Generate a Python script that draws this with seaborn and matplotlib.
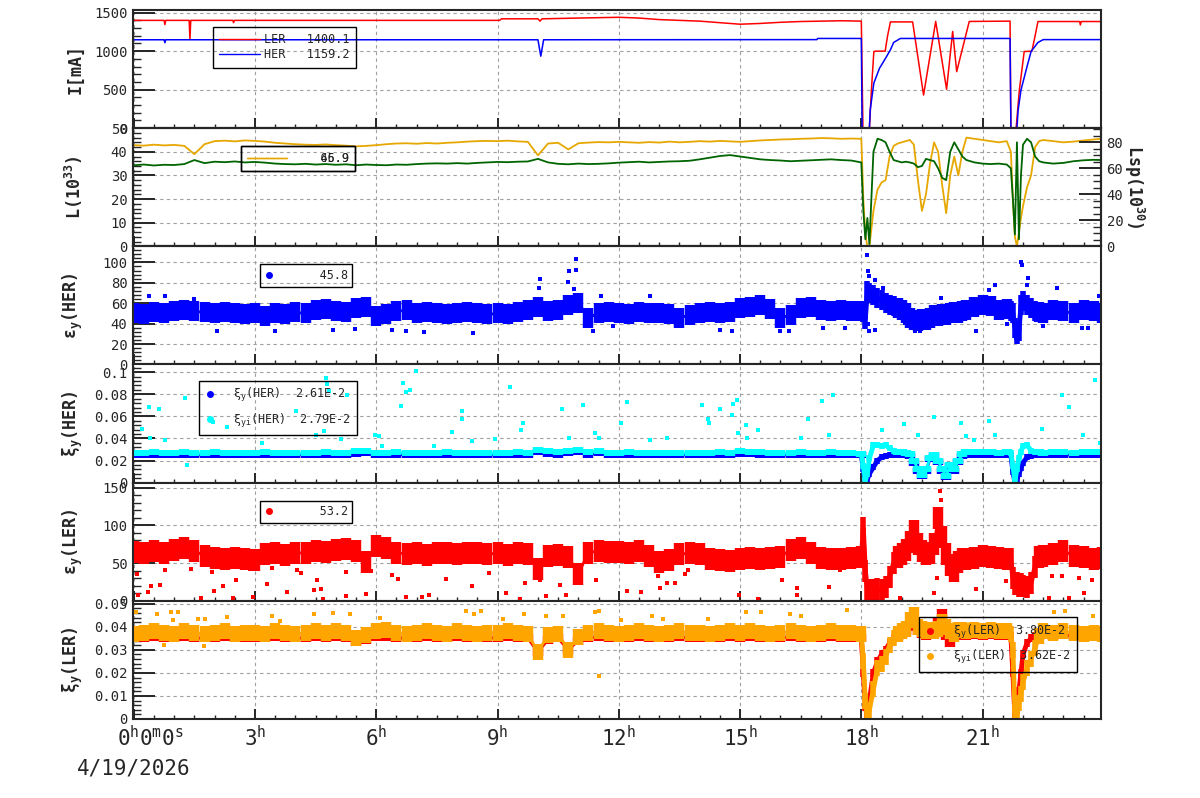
import numpy as np
import seaborn as sns
import matplotlib.pyplot as plt
import matplotlib.transforms as mtransforms
from matplotlib.lines import Line2D
from matplotlib.ticker import MultipleLocator, AutoMinorLocator, FuncFormatter

sns.set_style("ticks")
plt.rcParams['font.family'] = ['DejaVu Sans Mono', 'DejaVu Sans']
plt.rcParams['mathtext.default'] = 'regular'

# ---------------- data ----------------
# beam currents [mA], breakpoints in hours
t_ler = [0, 0.75, 0.77, 0.79, 1.37, 1.39, 1.41, 2.45, 2.47, 2.49, 9.05, 9.1,
         10.0, 10.05, 10.1, 11.0, 12.0, 12.5, 13.0, 14.0, 14.5, 15.0, 15.5,
         16.0, 16.5, 17.0, 17.5, 18.0, 18.02, 18.04, 18.06, 18.2, 18.25, 18.31,
         18.35, 18.59, 18.65, 18.72, 19.27, 19.54, 19.84, 20.11, 20.26, 20.36,
         20.67, 21.68, 21.7, 21.83, 21.91, 22.03, 22.22, 22.3, 22.37, 23.4,
         23.42, 23.44, 23.95]
i_ler = [1400, 1400, 1345, 1400, 1400, 1160, 1400, 1400, 1370, 1400, 1400, 1420,
         1420, 1390, 1420, 1430, 1440, 1430, 1410, 1390, 1370, 1350, 1360,
         1375, 1385, 1390, 1395, 1390, 700, 0, 0, 0, 495, 995,
         1000, 1000, 1200, 1380, 1380, 430, 1386, 505, 1256, 734,
         1386, 1390, 0, 0, 495, 995, 1000, 1200, 1385, 1385,
         1340, 1385, 1385]
t_her = [0, 0.75, 0.77, 0.79, 10.0, 10.07, 10.14, 16.9, 16.92, 18.0, 18.02, 18.2,
         18.22, 18.31, 18.45, 18.6, 18.72, 18.8, 18.94, 18.97, 21.68, 21.7, 21.85,
         21.88, 21.95, 22.1, 22.2, 22.37, 22.5, 23.95]
i_her = [1148, 1148, 1110, 1148, 1148, 935, 1148, 1150, 1165, 1165, 0, 0,
         235, 585, 778, 908, 1017, 1113, 1157, 1165, 1165, 0, 0,
         235, 495, 800, 995, 1113, 1150, 1150]

# sample times: every 15 min up to 18h, finer afterwards
t_base = np.arange(0, 18, 0.25)
t_evt = [18.0, 18.05, 18.1, 18.15, 18.2, 18.3, 18.4, 18.5, 18.6, 18.7,
         18.8, 18.9, 19.0, 19.1, 19.2, 19.3, 19.4, 19.5, 19.6, 19.7,
         19.8, 19.9, 20.0, 20.1, 20.2, 20.3, 20.4, 20.5, 20.6, 20.8,
         21.0, 21.2, 21.4, 21.6, 21.7, 21.75, 21.8, 21.85, 21.9, 21.95,
         22.0, 22.1, 22.2, 22.3, 22.4, 22.5, 22.75, 23.0, 23.25, 23.5,
         23.75, 23.95]
hours = np.concatenate([t_base, t_evt])

# luminosity L(10^33)
lum_l = [34.3, 34.6, 34.2, 34.5, 34.4, 34.8, 36.5, 35.2,
         35.8, 35.6, 35.9, 35.5, 35.7, 35.4, 35.0, 34.8,
         34.7, 34.9, 34.6, 34.8, 34.5, 34.7, 34.3, 34.6,
         34.4, 34.3, 34.6, 34.5, 34.8, 35.0, 35.1, 35.0,
         35.2, 35.0, 35.3, 35.5, 35.7, 35.6, 35.8, 35.9,
         37.0, 35.5, 34.9, 34.7, 35.0, 34.8, 34.9, 35.1,
         35.4, 35.6, 35.8, 35.5, 35.7, 35.9, 36.0, 36.2,
         36.8, 37.5, 38.2, 38.6, 38.0, 37.4, 36.8, 36.5,
         36.3, 36.0, 36.2, 36.4, 36.6, 36.8, 36.5, 36.3,
         35.5, 15.0, 3.0, 12.0, 1.0, 40.0, 45.5, 45.0, 44.0, 40.0,
         36.5, 36.0, 35.5, 35.8, 35.5, 35.0, 33.5, 34.0, 37.0, 36.5,
         36.0, 33.0, 29.0, 28.0, 40.0, 44.0, 41.0, 38.0, 36.5, 35.5,
         35.0, 34.8, 35.0, 34.6, 33.0, 20.0, 5.0, 44.0, 3.0, 30.0,
         43.0, 45.5, 44.0, 38.0, 36.0, 35.5, 35.0, 35.3, 36.0, 36.4,
         36.6, 36.5]
lum_sp = [42.8, 42.6, 43.0, 42.7, 42.9, 42.5, 39.0, 43.2,
          44.5, 44.7, 44.4, 44.8, 44.6, 44.3, 43.8, 43.5,
          43.2, 43.0, 42.9, 43.1, 42.8, 42.6, 42.3, 42.5,
          42.8, 43.2, 43.5, 43.6, 43.4, 43.7, 43.5, 43.8,
          44.0, 44.3, 44.5, 44.6, 44.5, 44.7, 44.4, 44.2,
          38.5, 43.5, 43.8, 41.0, 43.6, 43.9, 44.1, 44.0,
          44.2, 44.0, 43.8, 44.1, 43.9, 44.3, 44.0, 44.2,
          44.5, 44.3, 44.6, 44.4, 44.2, 44.5, 44.8, 45.0,
          45.2, 45.3, 45.5, 45.6, 45.8, 45.7, 45.5, 45.6,
          45.5, 20.0, 5.0, 0.0, 0.0, 15.0, 24.0, 27.0, 28.0, 38.0,
          42.5, 43.5, 44.0, 44.5, 45.0, 43.0, 28.0, 15.0, 22.0, 35.0,
          44.0, 40.0, 26.0, 14.0, 30.0, 38.0, 30.0, 40.0, 46.0, 45.5,
          45.0, 44.5, 44.0, 44.5, 40.0, 20.0, 4.0, 0.0, 6.0, 12.0,
          17.0, 25.0, 30.0, 42.0, 44.5, 45.0, 44.5, 44.0, 44.3, 44.8,
          45.2, 45.5]

# vertical emittance HER
eps_her = [50, 49, 51, 50, 52, 53, 52, 51,
           50, 51, 50, 49, 50, 47, 50, 49,
           51, 50, 53, 54, 52, 51, 55, 56,
           47, 49, 52, 53, 50, 51, 50, 49,
           50, 51, 50, 49, 50, 49, 51, 53,
           56, 52, 53, 58, 60, 46, 50, 51,
           50, 49, 51, 50, 50, 49, 46, 48,
           50, 51, 50, 51, 55, 56, 58, 54,
           46, 48, 55, 56, 53, 52, 53, 52,
           52, 51, 45, 72, 70, 68, 65, 63, 60, 58,
           57, 55, 53, 50, 46, 44, 43, 45, 44, 46,
           48, 47, 49, 48, 50, 51, 50, 52, 53, 56,
           58, 57, 53, 54, 52, 50, 36, 30, 33, 58,
           62, 58, 55, 52, 51, 50, 53, 52, 50, 53,
           52, 50]
eps_her_out_t = [0.38, 0.78, 1.48, 2.07, 3.5, 4.94, 5.48, 6.39, 6.73, 7.19, 8.4,
                 10.05, 10.03, 10.74, 10.78, 10.93, 10.94, 10.9, 11.07, 11.36,
                 11.85, 11.56, 12.77, 14.5, 14.79, 16.0, 16.21, 17.04, 17.6,
                 18.15, 18.16, 18.18, 18.33, 18.3, 18.18, 18.34, 18.53, 18.17,
                 19.09, 19.34, 19.46, 19.96, 20.84, 21.15, 21.3, 21.61, 21.83,
                 21.94, 21.98, 22.13, 22.1, 22.49, 22.85, 23.47, 23.62, 23.88]
eps_her_out_v = [66.7, 67.3, 64.4, 32.4, 32.4, 34, 35, 34, 32.4, 32, 30.7,
                 84, 75, 80.4, 91.2, 92.2, 103, 74, 66, 32.4,
                 38, 67, 67.3, 33.3, 32.4, 32.4, 32.4, 35.6, 35.6,
                 107.5, 91.2, 87, 83, 75, 32.4, 34, 75, 40,
                 40.5, 32.4, 32.4, 65, 32.4, 73, 78, 40, 25.8,
                 100, 97, 85, 78, 38, 75, 36, 36, 66.7]

# beam-beam parameter HER
xi_her = [0.0252, 0.0250, 0.0253, 0.0251, 0.0252, 0.0254, 0.0250, 0.0252,
          0.0253, 0.0251, 0.0250, 0.0252, 0.0252, 0.0253, 0.0251, 0.0250,
          0.0252, 0.0250, 0.0252, 0.0254, 0.0251, 0.0252, 0.0262, 0.0266,
          0.0250, 0.0252, 0.0254, 0.0251, 0.0250, 0.0252, 0.0252, 0.0254,
          0.0252, 0.0250, 0.0252, 0.0252, 0.0250, 0.0252, 0.0254, 0.0252,
          0.0275, 0.0262, 0.0254, 0.0266, 0.0275, 0.0254, 0.0266, 0.0252,
          0.0252, 0.0254, 0.0252, 0.0250, 0.0252, 0.0250, 0.0252, 0.0252,
          0.0250, 0.0252, 0.0254, 0.0252, 0.0262, 0.0258, 0.0254, 0.0252,
          0.0250, 0.0252, 0.0254, 0.0252, 0.0252, 0.0254, 0.0252, 0.0252,
          0.025, 0.012, 0.000, 0.003, 0.008, 0.014, 0.020, 0.023, 0.0245, 0.025,
          0.025, 0.025, 0.0252, 0.025, 0.024, 0.018, 0.011, 0.006, 0.011, 0.021,
          0.024, 0.019, 0.011, 0.005, 0.015, 0.011, 0.019, 0.024, 0.025, 0.0252,
          0.025, 0.0252, 0.025, 0.0252, 0.025, 0.010, 0.000, 0.003, 0.008, 0.013,
          0.018, 0.023, 0.0245, 0.025, 0.0252, 0.025, 0.0252, 0.025, 0.0252, 0.025,
          0.0252, 0.025]
xi_heri = [0.0265, 0.027, 0.0275, 0.027, 0.027, 0.0275, 0.0265, 0.027,
           0.0275, 0.027, 0.0265, 0.027, 0.027, 0.0275, 0.027, 0.0265,
           0.027, 0.0265, 0.027, 0.0275, 0.027, 0.027, 0.0285, 0.029,
           0.0265, 0.027, 0.0275, 0.027, 0.0265, 0.027, 0.027, 0.0275,
           0.027, 0.0265, 0.027, 0.027, 0.0265, 0.027, 0.0275, 0.027,
           0.030, 0.0285, 0.0275, 0.029, 0.030, 0.0275, 0.029, 0.027,
           0.027, 0.0275, 0.027, 0.0265, 0.027, 0.0265, 0.027, 0.027,
           0.0265, 0.027, 0.0275, 0.027, 0.0285, 0.028, 0.0275, 0.027,
           0.0265, 0.027, 0.0275, 0.027, 0.027, 0.0275, 0.027, 0.027,
           0.026, 0.015, 0.002, 0.008, 0.022, 0.034, 0.034, 0.033, 0.034, 0.031,
           0.029, 0.028, 0.028, 0.027, 0.026, 0.020, 0.012, 0.007, 0.012, 0.022,
           0.025, 0.020, 0.012, 0.006, 0.016, 0.012, 0.020, 0.026, 0.028, 0.028,
           0.0275, 0.028, 0.027, 0.0275, 0.027, 0.015, 0.002, 0.012, 0.022, 0.028,
           0.033, 0.034, 0.029, 0.028, 0.0275, 0.027, 0.0275, 0.028, 0.027, 0.0275,
           0.028, 0.0275]
xi_heri_out_t = [0.2, 0.38, 0.63, 0.4, 0.78, 1.27, 1.31, 1.97, 2.3, 3.17, 4.02,
                 4.52, 4.7, 4.75, 4.77, 4.83, 5.12, 5.28, 5.97, 6.07, 6.15, 6.6,
                 6.65, 6.73, 6.83, 6.98, 7.43, 7.87, 8.12, 8.13, 8.38, 8.94,
                 9.31, 9.58, 9.62, 10.6, 11.11, 10.78, 11.42, 11.5,
                 12.05, 12.21, 12.77, 13.2, 14.07, 14.21, 14.23, 14.51, 14.79,
                 14.83, 14.93, 14.96, 15.14, 15.16, 15.45, 16.51, 16.69, 17.02,
                 17.19, 17.29, 18.51, 19.05, 19.4, 19.81, 20.47, 20.59, 20.78,
                 21.15, 21.3, 22.48, 22.97, 23.15, 23.49, 23.77, 23.9]
xi_heri_out_v = [0.0488, 0.0684, 0.0669, 0.0403, 0.0382, 0.077, 0.0164, 0.055,
                 0.0503, 0.0358, 0.0646, 0.0427, 0.0467, 0.0948, 0.0897, 0.0833,
                 0.0397, 0.0797, 0.043, 0.0421, 0.0336, 0.0691, 0.0906, 0.0821,
                 0.0836, 0.101, 0.0336, 0.046, 0.0573, 0.0645, 0.0373, 0.0391,
                 0.0867, 0.0473, 0.0542, 0.0669, 0.07, 0.04, 0.0449, 0.0406,
                 0.0542, 0.073, 0.0382, 0.0406, 0.0706, 0.058, 0.0542, 0.0669,
                 0.0609, 0.0715, 0.0745, 0.0452, 0.0518, 0.0406, 0.0473, 0.0406,
                 0.0573, 0.0736, 0.043, 0.079, 0.0473, 0.0527, 0.043, 0.0591,
                 0.0542, 0.0421, 0.0388, 0.0555, 0.0427, 0.0482, 0.079, 0.0688,
                 0.043, 0.0927, 0.0361]

# vertical emittance LER
eps_ler = [65, 64, 66, 63, 68, 70, 66, 60,
           57, 56, 57, 55, 54, 62, 63, 61,
           63, 64, 66, 65, 68, 69, 66, 52,
           72, 70, 64, 62, 63, 61, 64, 63,
           62, 63, 64, 62, 63, 61, 63, 62,
           42, 60, 61, 58, 36, 64, 66, 65,
           65, 64, 66, 60, 52, 54, 62, 63,
           62, 55, 54, 53, 56, 57, 55, 57,
           58, 68, 70, 64, 57, 56, 55, 57,
           58, 96, 40, 15, 14, 14, 16, 14, 18, 32,
           50, 58, 62, 68, 78, 92, 75, 66, 62, 64,
           75, 110, 85, 62, 48, 40, 52, 56, 55, 57,
           60, 58, 57, 56, 55, 30, 22, 24, 20, 22,
           20, 18, 24, 45, 58, 60, 62, 66, 60, 58,
           56, 57]
eps_ler_out_t = [0.07, 0.1, 0.36, 0.43, 0.65, 0.78, 1.41, 1.67, 1.93, 1.99, 2.22,
                 2.32, 2.45, 2.54, 2.87, 2.94, 3.3, 3.41, 3.79, 4.04, 4.14, 4.45,
                 4.54, 4.64, 4.68, 5.24, 5.26, 5.74, 5.88, 6.4, 6.54, 6.73, 7.14,
                 7.31, 7.72, 8.38, 8.78, 9.21, 9.56, 9.68, 10.05, 10.2, 10.55,
                 10.7, 11.44, 12.21, 12.54, 12.96, 13.01, 13.2, 13.38, 13.63,
                 13.72, 14.5, 14.97, 15.45, 16.03, 16.4, 16.4, 17.21, 17.48,
                 18.05, 18.96, 19.3, 19.81, 19.87, 19.92, 19.94, 19.96, 20.84,
                 21.57, 22.64, 22.72, 22.97, 23.15, 23.38, 23.51, 23.7]
eps_ler_out_v = [35.9, 8.3, 11.4, 19.3, 20.6, 40.4, 42.6, 3.1, 38.2, 12.7, 19.3,
                 43.5, 3.1, 27.2, 42.6, 5.3, 22.4, 43.5, 11.8, 40.4, 36.8, 14,
                 27.2, 15.8, 2.2, 38.6, 6.1, 9.2, 39.9, 33.8, 28.5, 4.8, 4.8,
                 8.3, 28.5, 19.3, 36.8, 10.5, 2.6, 23.7, 28, 6.1, 20.6,
                 8.3, 27.2, 12.7, 11.4, 33.3, 17.1, 23.7, 23.7, 35.9,
                 41.2, 44.3, 7.5, 1.8, 28, 16.7, 7.5, 18.4, 40.4,
                 100, 3.9, 100, 10.5, 30.3, 120, 145, 133, 15.8,
                 26.8, 3.9, 32.4, 32.4, 3.1, 30.3, 10.5, 28]

# beam-beam parameter LER
xi_ler = [0.0350, 0.0352, 0.0355, 0.0352, 0.0350, 0.0355, 0.0352, 0.0350,
          0.0352, 0.0355, 0.0350, 0.0352, 0.0352, 0.0350, 0.0355, 0.0352,
          0.0350, 0.0352, 0.0355, 0.0352, 0.0355, 0.0352, 0.0335, 0.0345,
          0.0355, 0.0358, 0.0352, 0.0350, 0.0352, 0.0355, 0.0352, 0.0350,
          0.0355, 0.0352, 0.0350, 0.0352, 0.0352, 0.0355, 0.0352, 0.0350,
          0.0290, 0.0345, 0.0350, 0.0300, 0.0340, 0.0352, 0.0355, 0.0352,
          0.0350, 0.0352, 0.0355, 0.0352, 0.0350, 0.0352, 0.0355, 0.0352,
          0.0352, 0.0350, 0.0352, 0.0355, 0.0352, 0.0355, 0.0352, 0.0350,
          0.0352, 0.0355, 0.0352, 0.0350, 0.0352, 0.0355, 0.0352, 0.0352,
          0.035, 0.020, 0.005, 0.001, 0.008, 0.020, 0.025, 0.028, 0.030, 0.033,
          0.035, 0.036, 0.037, 0.038, 0.040, 0.042, 0.038, 0.037, 0.036, 0.037,
          0.038, 0.042, 0.046, 0.036, 0.033, 0.036, 0.037, 0.036, 0.036, 0.0365,
          0.036, 0.0365, 0.036, 0.036, 0.036, 0.020, 0.001, 0.004, 0.012, 0.020,
          0.028, 0.033, 0.035, 0.036, 0.036, 0.0365, 0.036, 0.0365, 0.036, 0.036,
          0.0365, 0.036]
xi_leri = [0.037, 0.0375, 0.038, 0.0375, 0.037, 0.038, 0.0375, 0.037,
           0.0375, 0.038, 0.037, 0.0375, 0.0375, 0.037, 0.038, 0.0375,
           0.037, 0.0375, 0.038, 0.0375, 0.038, 0.0375, 0.035, 0.0365,
           0.038, 0.0385, 0.0375, 0.037, 0.0375, 0.038, 0.0375, 0.037,
           0.038, 0.0375, 0.037, 0.0375, 0.0375, 0.038, 0.0375, 0.037,
           0.029, 0.0365, 0.037, 0.030, 0.0355, 0.0375, 0.038, 0.0375,
           0.037, 0.0375, 0.038, 0.0375, 0.037, 0.0375, 0.038, 0.0375,
           0.0375, 0.037, 0.0375, 0.038, 0.0375, 0.038, 0.0375, 0.037,
           0.0375, 0.038, 0.0375, 0.037, 0.0375, 0.038, 0.0375, 0.0375,
           0.037, 0.025, 0.008, 0.001, 0.004, 0.013, 0.022, 0.024, 0.027, 0.032,
           0.035, 0.037, 0.038, 0.039, 0.043, 0.045, 0.040, 0.039, 0.038, 0.0385,
           0.038, 0.039, 0.042, 0.040, 0.038, 0.037, 0.0385, 0.0385, 0.038, 0.0385,
           0.038, 0.0385, 0.038, 0.038, 0.037, 0.030, 0.003, 0.002, 0.007, 0.011,
           0.016, 0.022, 0.026, 0.031, 0.036, 0.038, 0.0375, 0.038, 0.0375, 0.037,
           0.0375, 0.037]
xi_leri_out_t = [0.06, 0.58, 0.93, 1.1, 0.98, 1.6, 1.76, 2.3, 3.42, 3.63, 4.45,
                 4.94, 5.36, 6.1, 8.21, 8.41, 8.58, 9.13, 9.66, 10.2, 10.61,
                 11.4, 11.51, 11.5, 0.74, 1.73, 12.06, 12.82, 13.1, 14.21,
                 15.15, 15.53, 16.24, 16.51, 17.64, 22.77, 23.05, 23.72]
xi_leri_out_v = [0.0465, 0.0456, 0.0465, 0.0464, 0.0429, 0.0436, 0.0435, 0.0441,
                 0.0446, 0.0425, 0.0456, 0.046, 0.0456, 0.0439, 0.0468, 0.0454,
                 0.0468, 0.0435, 0.0454, 0.0446, 0.0446, 0.0464, 0.0468, 0.0186,
                 0.032, 0.0316, 0.0429, 0.0446, 0.0432, 0.0435, 0.0465, 0.0464,
                 0.0454, 0.0446, 0.0475, 0.0464, 0.0468, 0.0446]

xtick_hours = [0, 3, 6, 9, 12, 15, 18, 21]
xtick_labels = ['0$^{h}$0$^{m}$0$^{s}$', '3$^{h}$', '6$^{h}$', '9$^{h}$',
                '12$^{h}$', '15$^{h}$', '18$^{h}$', '21$^{h}$']

# ---------------- colours ----------------
RED = '#ff0000'
BLUE = '#0000ff'
CYAN = '#00ffff'
ORANGE = '#ffa500'
LUMI_OR = '#e6a800'
GREEN = '#006400'

fig, axes = plt.subplots(6, 1, figsize=(12, 7.98), dpi=100, sharex=True)
fig.subplots_adjust(left=0.1108, right=0.9175, top=0.9875, bottom=0.099, hspace=0)


def style_axis(ax, ylim, major, ylabel, fmt=None):
    ax.set_xlim(-0.02, 23.93)
    ax.set_ylim(*ylim)
    ax.yaxis.set_major_locator(MultipleLocator(major))
    ax.yaxis.set_minor_locator(AutoMinorLocator(5))
    ax.xaxis.set_major_locator(MultipleLocator(3))
    ax.xaxis.set_minor_locator(MultipleLocator(0.5))
    if fmt is not None:
        ax.yaxis.set_major_formatter(FuncFormatter(fmt))
    ax.tick_params(axis='y', which='major', direction='in', length=16, width=1.4,
                   labelsize=10, pad=4)
    ax.tick_params(axis='y', which='minor', direction='in', length=5.5, width=1.0)
    ax.tick_params(axis='x', which='major', direction='in', length=7.5, width=1.4,
                   labelsize=15, pad=4)
    ax.tick_params(axis='x', which='minor', direction='in', length=3, width=1.0)
    ax.grid(True, which='major', color='#a0a0a0', lw=0.8, ls=(0, (3, 3)))
    for sp in ax.spines.values():
        sp.set_linewidth(1.5)
    ax.set_ylabel(ylabel, fontsize=12, fontweight='bold')
    ax.yaxis.set_label_coords(-0.05, 0.5)


def box_legend(ax, handles, labels, anchor, hl, **kw):
    leg = ax.legend(handles, labels, loc='upper left', bbox_to_anchor=anchor,
                    borderaxespad=0, frameon=True, fancybox=False, framealpha=1,
                    facecolor='none', edgecolor='black', prop={'size': 8.5},
                    handlelength=hl, **kw)
    leg.get_frame().set_linewidth(1.0)
    return leg


# index ranges of the samples: wide bars on flat stretches, narrow on the
# injection ramps after the two beam aborts
SEGMENTS = [(0, 73, 7.5, 2), (72, 84, 4.0, 3.5), (83, 106, 7.5, 2),
            (105, 117, 4.0, 3.5), (116, 124, 7.5, 2)]


def band(ax, y, color, height):
    # dense scatter drawn as short vertical bars joined by a line
    y = np.asarray(y)
    for a, b, mew, lw in SEGMENTS:
        sns.lineplot(x=hours[a:b], y=y[a:b], ax=ax, color=color, lw=lw,
                     estimator=None, marker='|', markersize=height,
                     markeredgewidth=mew, markeredgecolor=color)


def fmt_g(v, pos):
    return f'{v:g}'


# panel 1: currents
ax = axes[0]
sns.lineplot(x=t_ler, y=i_ler, ax=ax, color=RED, lw=1.1, estimator=None)
sns.lineplot(x=t_her, y=i_her, ax=ax, color=BLUE, lw=1.1, estimator=None)
style_axis(ax, (0, 1535), 500, 'I[mA]')
box_legend(ax, [Line2D([], [], color=RED, lw=1), Line2D([], [], color=BLUE, lw=1)],
           ['LER   1400.1', 'HER   1159.2'], (0.0826, 0.856), 3.4,
           borderpad=0.55, labelspacing=0.15, handletextpad=0.4)

# panel 2: luminosity
ax = axes[1]
sns.lineplot(x=hours, y=lum_sp, ax=ax, color=LUMI_OR, lw=1.3, estimator=None)
sns.lineplot(x=hours, y=lum_l, ax=ax, color=GREEN, lw=1.3, estimator=None)
style_axis(ax, (0, 50), 10, 'L(10$^{33}$)')
h_or = Line2D([], [], color=LUMI_OR, lw=1)
leg1 = box_legend(ax, [h_or], ['    46.9'], (0.1116, 0.847), 3.4,
                  borderpad=0.5, handletextpad=0.4)
ax.add_artist(leg1)
box_legend(ax, [h_or], ['    65.9'], (0.1116, 0.847), 3.4,
           borderpad=0.5, handletextpad=0.4)
axr = ax.twinx()
axr.set_ylim(0, 90.8)
axr.yaxis.set_major_locator(MultipleLocator(20))
axr.yaxis.set_minor_locator(AutoMinorLocator(4))
axr.tick_params(axis='y', which='major', direction='in', length=16, width=1.4,
                labelsize=10, pad=4)
axr.tick_params(axis='y', which='minor', direction='in', length=5.5, width=1.0)
axr.set_ylabel('Lsp(10$^{30}$)', fontsize=12, fontweight='bold', rotation=-90,
               va='bottom')
axr.yaxis.set_label_coords(1.022, 0.5)
axr.grid(False)
for sp in axr.spines.values():
    sp.set_linewidth(1.5)

# panel 3: emittance HER
ax = axes[2]
band(ax, eps_her, BLUE, 14.5)
sns.scatterplot(x=eps_her_out_t, y=eps_her_out_v, ax=ax, color=BLUE, marker='s',
                s=9, linewidth=0)
style_axis(ax, (0, 115.7), 20, 'ε$_{y}$(HER)')
box_legend(ax, [Line2D([], [], ls='none', marker='o', ms=4, color=BLUE)],
           ['     45.8'], (0.1312, 0.847), 0.8,
           borderpad=0.4, handletextpad=0.8)

# panel 4: beam-beam HER
ax = axes[3]
band(ax, xi_her, BLUE, 4.5)
band(ax, xi_heri, CYAN, 5)
sns.scatterplot(x=xi_heri_out_t, y=xi_heri_out_v, ax=ax, color=CYAN, marker='s',
                s=9, linewidth=0)
style_axis(ax, (0, 0.107), 0.02, 'ξ$_{y}$(HER)', fmt_g)
box_legend(ax, [Line2D([], [], ls='none', marker='o', ms=4, color=BLUE),
                Line2D([], [], ls='none', marker='o', ms=4, color=CYAN)],
           ['ξ$_{y}$(HER)  2.61E-2', 'ξ$_{yi}$(HER)  2.79E-2'],
           (0.0682, 0.864), 0.8, borderpad=0.5, labelspacing=0.6,
           handletextpad=1.6)

# panel 5: emittance LER
ax = axes[4]
band(ax, eps_ler, RED, 16)
sns.scatterplot(x=eps_ler_out_t, y=eps_ler_out_v, ax=ax, color=RED, marker='s',
                s=9, linewidth=0)
style_axis(ax, (0, 156.6), 50, 'ε$_{y}$(LER)')
box_legend(ax, [Line2D([], [], ls='none', marker='o', ms=4, color=RED)],
           ['     53.2'], (0.1312, 0.847), 0.8,
           borderpad=0.4, handletextpad=0.8)

# panel 6: beam-beam LER
ax = axes[5]
band(ax, xi_ler, RED, 6)
band(ax, xi_leri, ORANGE, 11)
sns.scatterplot(x=xi_leri_out_t, y=xi_leri_out_v, ax=ax, color=ORANGE, marker='s',
                s=9, linewidth=0)
style_axis(ax, (0, 0.0513), 0.01, 'ξ$_{y}$(LER)', fmt_g)
box_legend(ax, [Line2D([], [], ls='none', marker='o', ms=4, color=RED),
                Line2D([], [], ls='none', marker='o', ms=4, color=ORANGE)],
           ['ξ$_{y}$(LER)  3.80E-2', 'ξ$_{yi}$(LER)  3.62E-2'],
           (0.812, 0.864), 0.8, borderpad=0.5, labelspacing=0.6,
           handletextpad=1.6)

for a in axes[:-1]:
    a.tick_params(axis='x', labelbottom=False)

ax = axes[-1]
ax.set_xticks(xtick_hours)
ax.set_xticklabels(xtick_labels)
ax.set_xlabel('')
shift = mtransforms.ScaledTranslation(0.16, 0, fig.dpi_scale_trans)
first = ax.get_xticklabels()[0]
first.set_transform(first.get_transform() + shift)
ax.text(0, -0.415, '4/19/2026', transform=ax.get_xaxis_transform(),
        ha='center', va='center', fontsize=15)

fig.savefig('out.png', dpi=100)
